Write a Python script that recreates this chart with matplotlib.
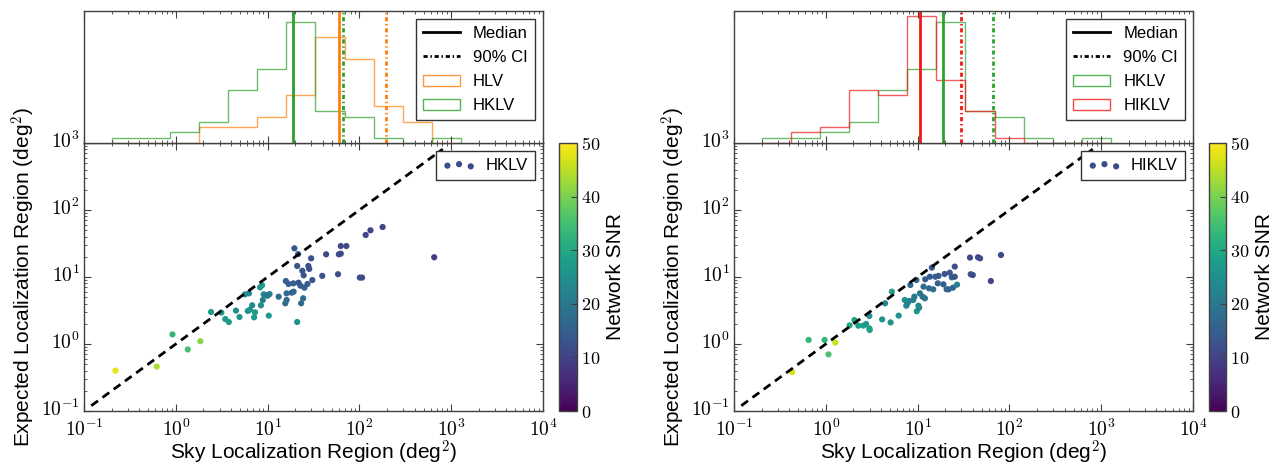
import numpy as np
import matplotlib
matplotlib.use('Agg')
import matplotlib.pyplot as plt
from matplotlib.ticker import LogLocator, FuncFormatter, NullFormatter, NullLocator
from matplotlib.transforms import ScaledTranslation
from matplotlib.lines import Line2D
from matplotlib.patches import Patch

plt.rcParams['font.family'] = ['Liberation Sans', 'DejaVu Sans']
plt.rcParams['mathtext.fontset'] = 'cm'
plt.rcParams['lines.scale_dashes'] = False

# ---------------- data ----------------
bin_edges = [0.202, 0.419, 0.867, 1.80, 3.72, 7.73, 16.0, 33.2, 68.9, 142.6, 295.8, 612.0, 1270.0]
hlv_counts = [0, 0, 0, 3, 3, 5, 9, 20, 16, 7, 4, 0]
hklv_counts = [1, 1, 2, 4, 10, 14, 23, 6, 5, 1, 0, 1]
hiklv_counts = [0, 2, 3, 10, 9, 24, 12, 6, 1, 0, 0, 0]

hlv_median, hlv_ci90 = 60.4, 193.0
hklv_median, hklv_ci90 = 18.9, 65.7
hiklv_median, hiklv_ci90 = 10.6, 29.7

# HKLV scatter: sky localization area, expected area, network SNR
hklv_sky = [0.22, 0.62, 0.92, 1.35, 1.85, 2.42, 3.13, 3.46, 3.78, 4.52, 4.94, 5.68, 6.27, 6.08,
            6.40, 6.79, 7.28, 7.13, 8.45, 8.28, 8.71, 8.87, 9.06, 9.70, 10.3, 10.5, 10.0, 13.2,
            15.6, 15.8, 16.1, 16.9, 19.1, 18.3, 19.2, 19.6, 21.0, 21.0, 21.7, 21.5, 22.8, 23.9,
            24.7, 25.2, 23.2, 24.4, 27.8, 28.4, 27.2, 29.8, 30.7, 39.4, 43.4, 58.5, 59.7, 62.7,
            62.7, 72.1, 101.0, 107.0, 117.0, 132.0, 179.0, 653.0, 16.1]
hklv_exp = [0.40, 0.46, 1.39, 0.83, 1.10, 3.00, 2.94, 2.36, 2.13, 3.15, 2.53, 5.51, 5.70, 3.11,
            3.25, 3.78, 2.97, 2.50, 3.78, 7.01, 7.52, 4.54, 5.51, 5.38, 2.65, 5.57, 5.26, 5.08,
            4.05, 8.71, 5.70, 7.87, 8.04, 5.83, 6.04, 26.8, 14.6, 2.13, 8.22, 22.0, 7.43, 12.4,
            10.6, 6.93, 4.05, 4.81, 14.6, 13.2, 7.87, 19.0, 9.0, 10.4, 21.8, 11.0, 21.8, 22.3,
            29.0, 29.0, 9.8, 9.8, 42.4, 49.8, 55.7, 19.7, 4.54]
hklv_snr = [48, 44, 33, 35, 41, 27, 26, 27, 27, 24, 26, 23, 24, 26,
            26, 24, 27, 27, 24, 26, 27, 21, 23, 21, 27, 21, 20, 17,
            17, 15, 17, 15, 15, 16, 16, 14, 13, 25, 13, 14, 14, 13,
            13, 15, 17, 17, 12, 12, 14, 12, 13, 12, 11, 12, 11, 11,
            11, 11, 12, 12, 10, 10, 10, 9, 17]

# HIKLV scatter
hiklv_sky = [0.43, 0.65, 0.97, 1.07, 1.27, 1.82, 2.05, 2.26, 2.56, 2.75, 2.98, 2.98, 3.01, 4.11,
             4.42, 5.08, 5.24, 6.22, 7.24, 7.53, 7.76, 8.09, 8.34, 8.95, 9.23, 9.79, 10.2, 10.4,
             9.70, 10.6, 11.3, 11.6, 12.0, 12.1, 13.3, 13.6, 14.3, 14.8, 15.6, 16.6, 16.9, 19.1,
             19.7, 20.7, 21.8, 22.4, 23.6, 25.4, 25.4, 24.3, 37.2, 37.9, 39.9, 45.5, 47.9, 62.8,
             80.9, 26.9]
hiklv_exp = [0.38, 1.15, 1.15, 0.70, 1.05, 1.90, 2.28, 1.88, 1.88, 1.99, 1.71, 2.62, 1.62, 2.33,
             4.05, 2.10, 6.04, 2.65, 4.54, 3.73, 4.05, 4.39, 7.60, 4.54, 5.09, 3.08, 3.73, 3.48,
             9.02, 5.70, 5.09, 7.18, 4.81, 9.23, 6.78, 10.1, 13.8, 6.55, 10.1, 8.04, 10.4, 7.78,
             11.1, 6.55, 6.55, 11.6, 9.89, 10.1, 14.3, 6.93, 19.5, 11.0, 10.7, 19.7, 19.0, 8.71,
             21.3, 7.69]
hiklv_snr = [47, 33, 33, 36, 46, 30, 29, 28, 28, 27, 28, 25, 28, 25,
             22, 26, 28, 26, 25, 24, 22, 22, 17, 21, 20, 26, 24, 24,
             15, 19, 20, 17, 19, 15, 17, 14, 13, 17, 14, 15, 14, 15,
             13, 16, 16, 13, 14, 13, 12, 16, 11, 12, 12, 11, 11, 10,
             11, 22]

diag = [0.12, 810.0]
snr_ticks = [0, 10, 20, 30, 40, 50]

# ---------------- style ----------------
C_ORANGE = '#ff7f0e'
C_GREEN = '#2ca02c'
C_RED = '#f01a1a'
C_LEGEND_DOT = '#3b4d8a'
SPINE = '0.25'
DASHDOT = (0, (3, 2, 1, 2))

W, H = 1272, 466
fig = plt.figure(figsize=(W / 100, H / 100), dpi=100)
fig.patch.set_facecolor('white')


def fx(px):
    return px / W


def fy(top, bottom):
    return (H - bottom) / H, (bottom - top) / H


def logfmt(v, pos):
    e = int(round(np.log10(v)))
    return r'$\mathrm{10^{%d}}$' % e


def style_axes(ax):
    for s in ax.spines.values():
        s.set_color(SPINE)
        s.set_linewidth(1.0)
    ax.tick_params(which='both', direction='in', top=True, right=True, color=SPINE)
    ax.tick_params(which='major', length=5, width=0.8)
    ax.tick_params(which='minor', length=2.5, width=0.6)


def panel(left, right, cbar_left, cbar_right, hist_series, medians, sky, exp, snr, label):
    sy0, sh = fy(143, 411)
    hy0, hh = fy(11, 143)
    ax = fig.add_axes([fx(left), sy0, fx(right - left), sh])
    axh = fig.add_axes([fx(left), hy0, fx(right - left), hh], sharex=ax)
    cax = fig.add_axes([fx(cbar_left), sy0, fx(cbar_right - cbar_left), sh])

    # histogram panel
    handles = [Line2D([], [], color='k', lw=2, label='Median'),
               Line2D([], [], color='k', lw=2, linestyle=DASHDOT, label='90% CI')]
    for (name, counts, col) in hist_series:
        axh.stairs(counts, bin_edges, color=col, lw=1.0, alpha=0.7)
        handles.append(Patch(facecolor='none', edgecolor=col, lw=1.0, alpha=0.8, label=name))
    for (med, ci, col) in medians:
        axh.axvline(med, color=col, lw=2)
        axh.axvline(ci, color=col, lw=2, linestyle=DASHDOT)
    axh.set_ylim(0, 25)
    axh.yaxis.set_major_locator(NullLocator())
    axh.yaxis.set_minor_locator(NullLocator())
    style_axes(axh)
    plt.setp(axh.get_xticklabels(which='both'), visible=False)
    axh.legend(handles=handles, loc='upper right', fontsize=12, frameon=True, fancybox=False,
               edgecolor='0.2', framealpha=1, borderaxespad=0.5, handlelength=2.2,
               labelspacing=0.55)

    # scatter panel
    ax.plot(diag, diag, color='k', lw=2, linestyle=(0, (6, 4)), zorder=3)
    sc = ax.scatter(sky, exp, c=snr, cmap='viridis', vmin=0, vmax=50, s=20,
                    edgecolors='none', label=label, zorder=2)
    ax.set_xscale('log')
    ax.set_yscale('log')
    ax.set_xlim(0.1, 1e4)
    ax.set_ylim(0.1, 1e3)
    for axis in (ax.xaxis, ax.yaxis):
        axis.set_major_locator(LogLocator(base=10, numticks=20))
        axis.set_minor_locator(LogLocator(base=10, subs=np.arange(2, 10), numticks=20))
        axis.set_major_formatter(FuncFormatter(logfmt))
        axis.set_minor_formatter(NullFormatter())
    style_axes(ax)
    ax.tick_params(axis='both', which='major', labelsize=14)
    ax.tick_params(axis='x', which='major', pad=5.5)
    ax.tick_params(axis='y', which='major', pad=3)
    # lift the y tick labels slightly, as in the reference
    lift = ScaledTranslation(0, 2.5 / 72, fig.dpi_scale_trans)
    for t in ax.yaxis.get_major_ticks():
        t.label1.set_transform(t.label1.get_transform() + lift)
    ax.set_xlabel(r'Sky Localization Region (deg$^2$)', fontsize=15, labelpad=-1)
    ax.set_ylabel(r'Expected Localization Region (deg$^2$)', fontsize=15, labelpad=2)
    leg = ax.legend(loc='upper right', fontsize=12, scatterpoints=3,
                    scatteryoffsets=[0.375, 0.5, 0.3125], frameon=True, fancybox=False,
                    edgecolor='0.2', framealpha=1, borderaxespad=0.5, handletextpad=0.6)
    for hnd in leg.legend_handles:
        hnd.set_array(None)
        hnd.set_facecolor(C_LEGEND_DOT)
        hnd.set_edgecolor('none')

    cb = fig.colorbar(sc, cax=cax, ticks=snr_ticks)
    cb.outline.set_edgecolor(SPINE)
    cb.outline.set_linewidth(1.0)
    cax.tick_params(labelsize=13, direction='in', length=4, color=SPINE, pad=3)
    cax.yaxis.set_major_formatter(FuncFormatter(lambda v, p: r'$\mathrm{%d}$' % v))
    cb.set_label('Network SNR', fontsize=15, labelpad=4)


panel(84, 543, 559, 577,
      [('HLV', hlv_counts, C_ORANGE), ('HKLV', hklv_counts, C_GREEN)],
      [(hlv_median, hlv_ci90, C_ORANGE), (hklv_median, hklv_ci90, C_GREEN)],
      hklv_sky, hklv_exp, hklv_snr, 'HKLV')

panel(734, 1193, 1209, 1226,
      [('HKLV', hklv_counts, C_GREEN), ('HIKLV', hiklv_counts, C_RED)],
      [(hiklv_median, hiklv_ci90, C_RED), (hklv_median, hklv_ci90, C_GREEN)],
      hiklv_sky, hiklv_exp, hiklv_snr, 'HIKLV')

fig.savefig('out.png', dpi=100, facecolor='white')
